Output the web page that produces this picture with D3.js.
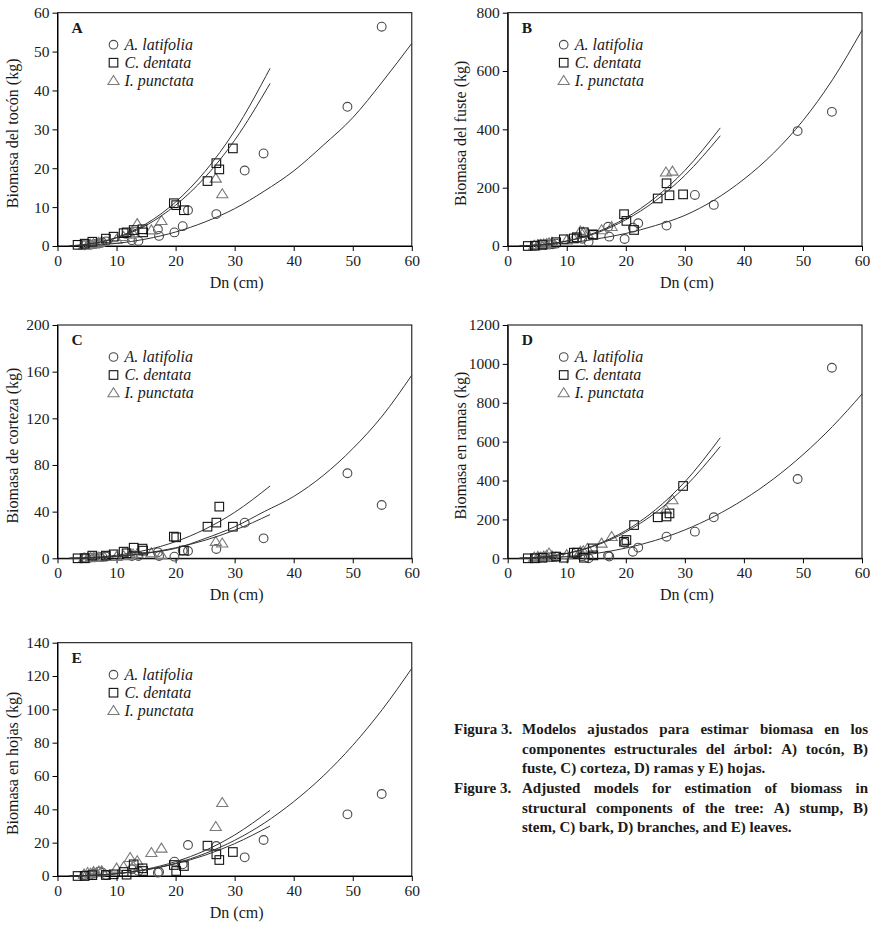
<!DOCTYPE html>
<html><head><meta charset="utf-8">
<script src="https://cdn.jsdelivr.net/npm/d3@7"></script>
<style>
body{margin:0;background:#fff}
svg{display:block}
svg text{font-family:"Liberation Serif","DejaVu Serif",serif;fill:#1a1a1a}
</style>
</head><body>
<svg id="chart" width="888" height="948"></svg>
<script>
// ---------- data ----------
const speciesNames = ["A. latifolia", "C. dentata", "I. punctata"];
const panelLetters = ["A", "B", "C", "D", "E"];
const yLabels = ["Biomasa del tocón (kg)", "Biomasa del fuste (kg)", "Biomasa de corteza (kg)", "Biomasa en ramas (kg)", "Biomasa en hojas (kg)"];
const xLabel = "Dn (cm)";
const xTicks = [0, 10, 20, 30, 40, 50, 60];
const tocTicks = [0, 10, 20, 30, 40, 50, 60];
const fusTicks = [0, 200, 400, 600, 800];
const corTicks = [0, 40, 80, 120, 160, 200];
const ramTicks = [0, 200, 400, 600, 800, 1000, 1200];
const hojTicks = [0, 20, 40, 60, 80, 100, 120, 140];

const dnAl = [4.6, 5.5, 6.3, 7.1, 7.6, 8.2, 12.6, 13.7, 17.0, 17.2, 19.8, 21.2, 22.1, 26.9, 31.7, 34.9, 49.1, 54.9];
const dnCd = [3.4, 4.6, 5.9, 8.2, 9.5, 11.2, 11.7, 12.9, 14.4, 14.5, 19.7, 20.1, 21.4, 25.4, 26.9, 27.4, 29.7];
const dnIp = [4.5, 5.1, 5.6, 6.1, 6.6, 7.0, 7.5, 10.0, 11.2, 12.3, 12.8, 13.5, 15.9, 17.6, 26.8, 27.9];

const tocAl = [0.2, 0.3, 0.5, 0.7, 0.9, 1.2, 1.5, 1.3, 4.3, 2.6, 3.5, 5.1, 9.2, 8.2, 19.4, 23.8, 35.8, 56.4];
const tocCd = [0.3, 0.6, 1.1, 1.9, 2.4, 3.3, 3.5, 4.1, 4.3, 3.5, 11.0, 10.5, 9.2, 16.7, 21.3, 19.7, 25.1];
const tocIp = [0.2, 0.3, 0.4, 0.5, 0.7, 0.9, 1.1, 1.7, 2.4, 3.0, 3.3, 5.7, 4.1, 6.5, 17.4, 13.4];

const fusAl = [1, 2, 3, 5, 6, 8, 25, 15, 66, 32, 24, 63, 78, 70, 175, 141, 394, 460];
const fusCd = [0, 1, 5, 13, 23, 26, 30, 47, 40, 38, 109, 86, 55, 163, 215, 174, 177];
const fusIp = [2, 4, 5, 6, 8, 10, 12, 20, 25, 51, 47, 42, 55, 66, 253, 256];

const corAl = [0.5, 0.6, 0.8, 1.0, 1.2, 1.5, 2.0, 2.0, 5.1, 2.0, 1.4, 6.6, 6.2, 8.0, 30.5, 17.1, 72.9, 45.7];
const corCd = [0, 0, 2.3, 2.3, 3.4, 5.7, 4.3, 9.1, 8.3, 6.6, 18.6, 18.0, 6.6, 27.1, 30.6, 44.3, 27.1];
const corIp = [0, 0.3, 0.5, 0.6, 0.8, 1.0, 1.1, 1.5, 2.0, 3.0, 3.5, 4.0, 4.5, 3.0, 14.3, 12.9];

const ramAl = [2, 3, 4, 5, 6, 8, 10, 0, 14, 9, 80, 34, 55, 111, 137, 211, 408, 980];
const ramCd = [0, 0, 3, 9, 3, 29, 29, 3, 51, 15, 85, 94, 171, 211, 215, 231, 372];
const ramIp = [5, 9, 6, 10, 15, 26, 12, 18, 25, 35, 38, 51, 77, 111, 250, 300];

const hojAl = [0.5, 0.8, 1.5, 2.6, 2.0, 0.6, 4.0, 3.0, 2.0, 2.4, 8.6, 7.0, 18.6, 18.0, 11.2, 21.6, 37.0, 49.2];
const hojCd = [0, 0, 0.5, 0.6, 1.0, 2.4, 0.8, 7.0, 4.6, 3.0, 6.6, 3.0, 6.0, 18.2, 13.0, 9.6, 14.4];
const hojIp = [1, 2, 1.5, 2.5, 2, 2.8, 3, 4.6, 5.6, 11, 6, 9, 14, 16.6, 29.6, 44];

// fitted model lines
const fitXShort = [2, 5, 10, 15, 20, 25, 30, 36];
const fitXLong = [2, 5, 10, 15, 20, 25, 30, 35, 40, 45, 50, 55, 60];
const tocFitAl = [0.013, 0.12, 0.67, 1.8, 3.6, 6.2, 9.6, 14.1, 19.3, 25.9, 33.0, 42.2, 52.1];
const tocFitCd = [0.05, 0.42, 2.2, 5.7, 11.3, 19.2, 29.6, 45.7];
const tocFitIp = [0.05, 0.40, 2.1, 5.3, 10.5, 17.7, 27.2, 41.8];
const fusFitAl = [0.5, 3, 10, 24, 43, 70, 105, 158, 229, 318, 430, 570, 740];
const fusFitCd = [0.3, 3.2, 17.6, 47, 96, 166, 259, 405];
const fusFitIp = [0.3, 3.0, 16.4, 44, 90, 155, 242, 378];
const corFitAl = [0.02, 0.25, 1.5, 4.3, 8.5, 17, 27, 40, 53, 71, 94, 122, 157];
const corFitCd = [0.05, 0.45, 2.6, 7.0, 14.3, 25, 39.4, 62];
const corFitIp = [0.035, 0.32, 1.7, 4.5, 9.0, 15.5, 24.1, 37.5];
const ramFitAl = [0.15, 1.6, 9.1, 25.3, 52.5, 92, 146, 216, 303, 408, 533, 678, 845];
const ramFitCd = [0.45, 4.5, 25, 70, 143, 249, 393, 620];
const ramFitIp = [0.47, 4.5, 24.6, 66.7, 135, 234, 367, 575];
const hojFitAl = [0.022, 0.23, 1.3, 3.7, 7.65, 13.5, 21.4, 31.7, 44.6, 60, 78.4, 99.9, 124.6];
const hojFitCd = [0.022, 0.24, 1.43, 4.1, 8.6, 15.3, 24.6, 39.4];
const hojFitIp = [0.03, 0.26, 1.39, 3.67, 7.3, 12.5, 19.4, 30];

const captionEs = [
  "Modelos ajustados para estimar biomasa en los",
  "componentes estructurales del árbol: A) tocón, B)",
  "fuste, C) corteza, D) ramas y E) hojas."
];
const captionEn = [
  "Adjusted models for estimation of biomass in",
  "structural components of the tree: A) stump, B)",
  "stem, C) bark, D) branches, and E) leaves."
];
const captionLabels = ["Figura 3.", "Figure 3."];

// ---------- layout ----------
const SERIF = '"Liberation Serif", "DejaVu Serif", serif';
const svg = d3.select("#chart");
svg.append("rect").attr("width", 888).attr("height", 948).attr("fill", "#fff");
const PW = 354.3, PH = 233.3;
const panelDefs = [
  {x0: 57.5, y0: 12.7, ticks: tocTicks, al: tocAl, cd: tocCd, ip: tocIp, fAl: tocFitAl, fCd: tocFitCd, fIp: tocFitIp},
  {x0: 507.7, y0: 12.7, ticks: fusTicks, al: fusAl, cd: fusCd, ip: fusIp, fAl: fusFitAl, fCd: fusFitCd, fIp: fusFitIp},
  {x0: 57.5, y0: 325, ticks: corTicks, al: corAl, cd: corCd, ip: corIp, fAl: corFitAl, fCd: corFitCd, fIp: corFitIp},
  {x0: 507.7, y0: 325, ticks: ramTicks, al: ramAl, cd: ramCd, ip: ramIp, fAl: ramFitAl, fCd: ramFitCd, fIp: ramFitIp},
  {x0: 57.5, y0: 642.7, ticks: hojTicks, al: hojAl, cd: hojCd, ip: hojIp, fAl: hojFitAl, fCd: hojFitCd, fIp: hojFitIp}
];

const circleColor = "#4a4a4a", squareColor = "#111", triColor = "#7a7a7a";
function triPath(cx, cy) {
  return `M${cx},${cy - 5.2}L${cx + 5.6},${cy + 3.8}L${cx - 5.6},${cy + 3.8}Z`;
}

panelDefs.forEach((p, i) => {
  const g = svg.append("g").attr("transform", `translate(${p.x0},${p.y0})`);
  const x = d3.scaleLinear().domain([0, 60]).range([0, PW]);
  const yMax = p.ticks[p.ticks.length - 1];
  const y = d3.scaleLinear().domain([0, yMax]).range([PH, 0]);

  g.append("rect").attr("width", PW).attr("height", PH)
    .attr("fill", "none").attr("stroke", "#000").attr("stroke-width", 1);

  const xa = g.append("g").attr("transform", `translate(0,${PH})`)
    .call(d3.axisBottom(x).tickValues(xTicks).tickFormat(d3.format("d"))
      .tickSize(5).tickPadding(4).tickSizeOuter(0));
  const ya = g.append("g")
    .call(d3.axisLeft(y).tickValues(p.ticks).tickFormat(d3.format("d"))
      .tickSize(5).tickPadding(3).tickSizeOuter(0));
  [xa, ya].forEach(a => {
    a.attr("font-family", null).attr("font-size", null);
    a.selectAll("text").style("font-family", SERIF).style("font-size", "15.5px").attr("fill", "#1a1a1a");
    a.select(".domain").attr("stroke", "#000");
    a.selectAll(".tick line").attr("stroke", "#000");
  });

  g.append("text").attr("x", PW / 2 + 2).attr("y", PH + 42)
    .attr("text-anchor", "middle").style("font-family", SERIF).style("font-size", "16px").text(xLabel);
  const lx = i % 2 === 0 ? -39.5 : -42;
  g.append("text").attr("transform", `translate(${lx},${PH / 2 + 4}) rotate(-90)`)
    .attr("text-anchor", "middle").style("font-family", SERIF).style("font-size", "16px").text(yLabels[i]);

  g.append("text").attr("x", 14).attr("y", 20)
    .style("font-family", SERIF).style("font-size", "15.5px").style("font-weight", "bold")
    .text(panelLetters[i]);

  // legend
  const lg = g.append("g");
  const lmx = 56, ltx = 67, lrows = [32, 50, 68];
  lg.append("circle").attr("cx", lmx).attr("cy", lrows[0]).attr("r", 4.3)
    .attr("fill", "none").attr("stroke", circleColor).attr("stroke-width", 1.1);
  lg.append("rect").attr("x", lmx - 4.3).attr("y", lrows[1] - 4.3).attr("width", 8.6).attr("height", 8.6)
    .attr("fill", "none").attr("stroke", squareColor).attr("stroke-width", 1.1);
  lg.append("path").attr("d", triPath(lmx, lrows[2]))
    .attr("fill", "none").attr("stroke", triColor).attr("stroke-width", 1.1);
  speciesNames.forEach((s, k) => {
    lg.append("text").attr("x", ltx).attr("y", lrows[k] + 5)
      .style("font-family", SERIF).style("font-size", "16px").style("font-style", "italic")
      .attr("fill", "#262626").text(s);
  });

  // points
  const ptsAl = dnAl.map((d, k) => [d, p.al[k]]);
  const ptsCd = dnCd.map((d, k) => [d, p.cd[k]]);
  const ptsIp = dnIp.map((d, k) => [d, p.ip[k]]);
  g.append("g").selectAll("circle").data(ptsAl).join("circle")
    .attr("cx", d => x(d[0])).attr("cy", d => y(d[1])).attr("r", 4.4)
    .attr("fill", "none").attr("stroke", circleColor).attr("stroke-width", 1.1);
  g.append("g").selectAll("path").data(ptsIp).join("path")
    .attr("d", d => triPath(x(d[0]), y(d[1])))
    .attr("fill", "none").attr("stroke", triColor).attr("stroke-width", 1.1);
  g.append("g").selectAll("rect").data(ptsCd).join("rect")
    .attr("x", d => x(d[0]) - 4.3).attr("y", d => y(d[1]) - 4.3)
    .attr("width", 8.6).attr("height", 8.6)
    .attr("fill", "none").attr("stroke", squareColor).attr("stroke-width", 1.1);

  // fitted lines
  const line = d3.line().x(d => x(d[0])).y(d => y(d[1])).curve(d3.curveMonotoneX);
  const fits = [
    fitXLong.map((v, k) => [v, p.fAl[k]]),
    fitXShort.map((v, k) => [v, p.fCd[k]]),
    fitXShort.map((v, k) => [v, p.fIp[k]])
  ];
  g.append("g").selectAll("path").data(fits).join("path")
    .attr("d", line).attr("fill", "none").attr("stroke", "#333").attr("stroke-width", 1);
});

// ---------- caption ----------
const cap = svg.append("g");
const bodyX0 = 522, bodyX1 = 868;
function styleCap(t) {
  return t.style("font-family", SERIF).style("font-size", "15px").style("font-weight", "bold");
}
function measure(str) {
  const t = styleCap(cap.append("text").attr("x", 0).attr("y", -100)).text(str);
  const w = t.node().getComputedTextLength();
  t.remove();
  return w;
}
function writeLine(str, yb, justify) {
  const t = styleCap(cap.append("text").attr("y", yb));
  if (!justify) {
    t.attr("x", bodyX0).text(str);
    return;
  }
  const words = str.split(" ");
  const widths = words.map(measure);
  const total = d3.sum(widths);
  const gap = (bodyX1 - bodyX0 - total) / (words.length - 1);
  let cx = bodyX0;
  words.forEach((w, k) => {
    t.append("tspan").attr("x", cx).text(w);
    cx += widths[k] + gap;
  });
}
const capY = [734, 753.5, 773, 793, 812.5, 832];
[captionEs, captionEn].forEach((lines, b) => {
  styleCap(cap.append("text").attr("x", 454).attr("y", capY[b * 3])).text(captionLabels[b]);
  lines.forEach((l, k) => writeLine(l, capY[b * 3 + k], k < 2));
});
</script>
</body></html>
